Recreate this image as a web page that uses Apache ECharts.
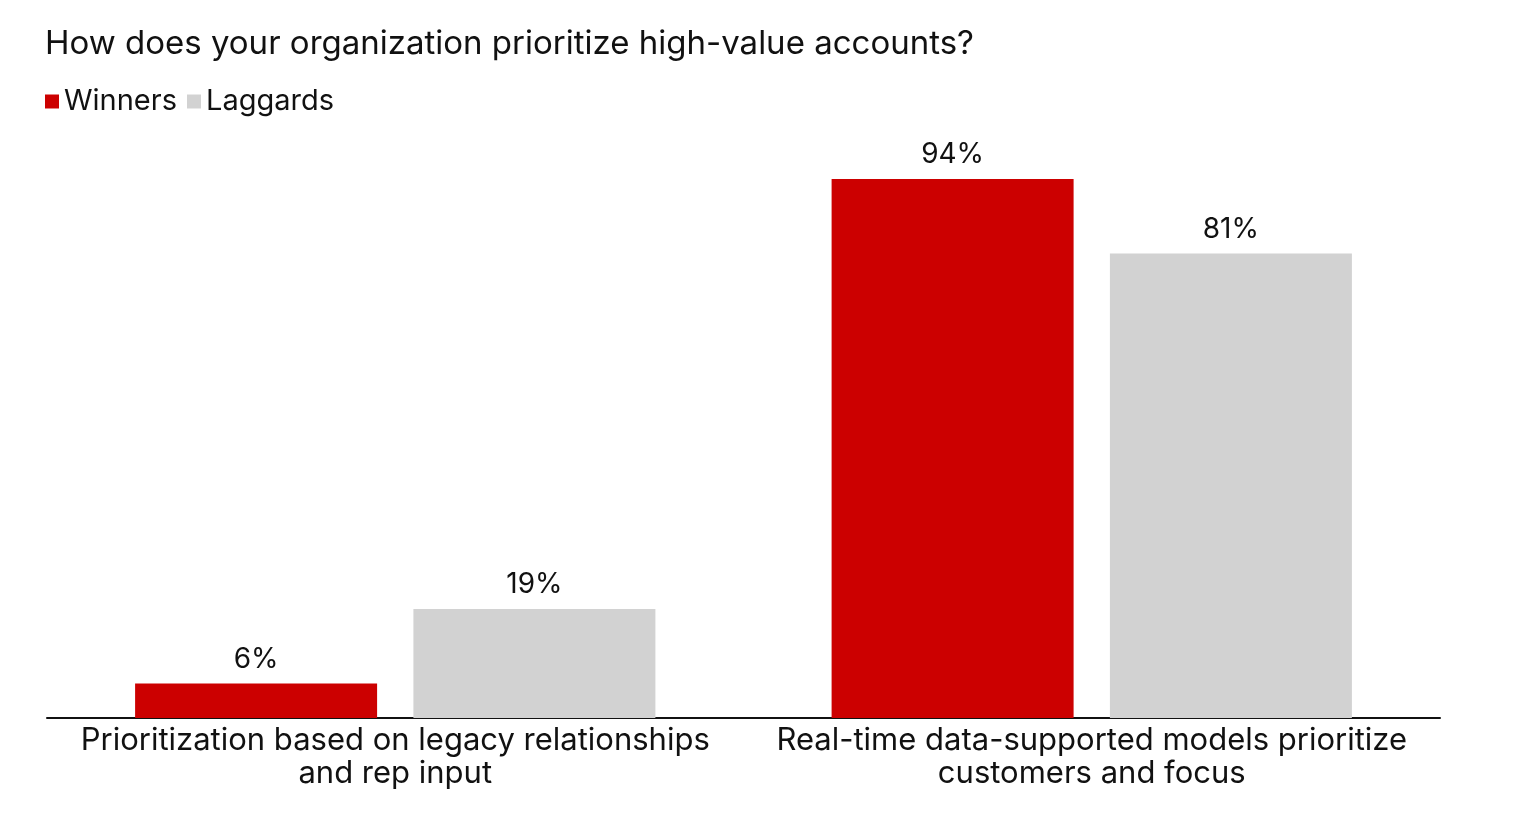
<!DOCTYPE html>
<html>
<head>
<meta charset="utf-8">
<script src="https://cdn.jsdelivr.net/npm/echarts@6/dist/echarts.min.js"></script>
<style>
  html, body { margin: 0; padding: 0; background: #fff; }
  #main { width: 1521px; height: 834px; }
</style>
</head>
<body>
<div id="main"></div>
<script>
var categories = [
    'Prioritization based on legacy relationships\nand rep input',
    'Real-time data-supported models prioritize\ncustomers and focus'
];
var winners = [6, 94];
var laggards = [19, 81];

var chart = echarts.init(document.getElementById('main'));

var valueLabel = {
    show: true,
    position: 'top',
    distance: 10,
    formatter: '{c}%',
    color: '#111',
    fontSize: 28,
    fontFamily: 'Inter'
};

var option = {
    animation: false,
    backgroundColor: '#fff',
    title: {
        text: 'How does your organization prioritize high-value accounts?',
        left: 40,
        top: 23,
        textStyle: {
            fontFamily: 'Inter',
            fontWeight: 'normal',
            fontSize: 33,
            color: '#111'
        }
    },
    legend: {
        left: 40,
        top: 82,
        itemWidth: 14,
        itemHeight: 14,
        itemGap: 10,
        icon: 'rect',
        textStyle: {
            fontFamily: 'Inter',
            fontSize: 29,
            color: '#111'
        },
        data: ['Winners', 'Laggards']
    },
    grid: {
        left: 47,
        right: 81,
        top: 144.6,
        bottom: 116,
        containLabel: false
    },
    xAxis: {
        type: 'category',
        data: categories,
        axisLine: { lineStyle: { color: '#111', width: 2 } },
        axisTick: { show: false },
        axisLabel: {
            interval: 0,
            margin: 6,
            fontFamily: 'Inter',
            fontSize: 31,
            lineHeight: 33,
            color: '#111'
        }
    },
    yAxis: {
        type: 'value',
        min: 0,
        max: 100,
        show: false
    },
    series: [{
        name: 'Winners',
        type: 'bar',
        data: winners,
        barWidth: 242,
        barGap: '15%',
        itemStyle: { color: '#cc0000' },
        label: valueLabel
    }, {
        name: 'Laggards',
        type: 'bar',
        data: laggards,
        barWidth: 242,
        itemStyle: { color: '#d2d2d2' },
        label: valueLabel
    }]
};

chart.setOption(option);
</script>
</body>
</html>
